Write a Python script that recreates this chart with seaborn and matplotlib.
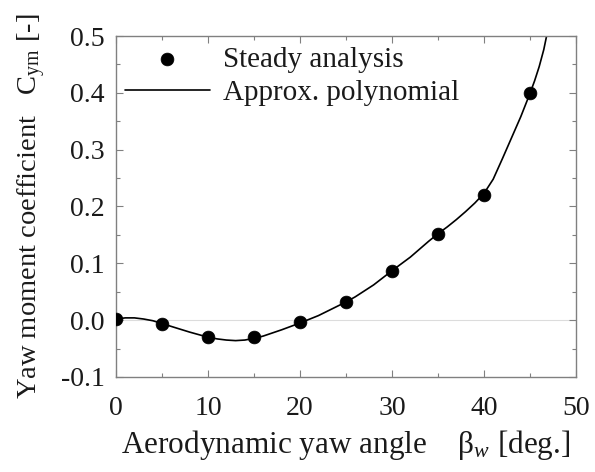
import matplotlib
matplotlib.use("Agg")
import matplotlib.pyplot as plt
import seaborn as sns
import numpy as np
import pandas as pd
from matplotlib.ticker import MultipleLocator

# Steady analysis points
beta_pts = [0, 5, 10, 15, 20, 25, 30, 35, 40, 45]
cym_pts = [0.002, -0.006, -0.030, -0.030, -0.004, 0.032, 0.087, 0.152, 0.221, 0.399]

# Approx. polynomial curve
beta_curve = [0, 1, 2, 3, 4, 5, 6, 8, 10, 11, 12, 13, 14, 15, 16, 18, 20, 22, 24, 25,
              26, 28, 30, 32, 34, 35, 36, 37, 38, 39, 40, 41, 42, 43, 44, 45, 45.5, 46, 46.5, 47]
cym_curve = [0.002, 0.004, 0.004, 0.002, -0.001, -0.006, -0.011, -0.021, -0.030, -0.033,
             -0.035, -0.036, -0.035, -0.032, -0.028, -0.017, -0.005, 0.008, 0.024, 0.032,
             0.041, 0.062, 0.087, 0.111, 0.139, 0.152, 0.164, 0.177, 0.191, 0.206, 0.223,
             0.248, 0.284, 0.321, 0.358, 0.399, 0.421, 0.446, 0.476, 0.515]

x_ticks = [0, 10, 20, 30, 40, 50]
y_ticks = [-0.1, 0.0, 0.1, 0.2, 0.3, 0.4, 0.5]
y_ticklabels = ["-0.1", "0.0", "0.1", "0.2", "0.3", "0.4", "0.5"]

sns.set_theme(style="ticks")
plt.rcParams["font.family"] = ["Liberation Serif", "DejaVu Serif"]
plt.rcParams["mathtext.fontset"] = "custom"
plt.rcParams["mathtext.rm"] = "Liberation Serif"
plt.rcParams["mathtext.it"] = "Liberation Serif:italic"

fig = plt.figure(figsize=(5.95, 4.72), dpi=100)
ax = fig.add_axes([0.195, 0.2013, 0.773, 0.7224])

ax.axhline(0, color="#dcdcdc", lw=0.8, zorder=0)

df_pts = pd.DataFrame({"beta": beta_pts, "cym": cym_pts})
df_curve = pd.DataFrame({"beta": beta_curve, "cym": cym_curve})

sns.scatterplot(data=df_pts, x="beta", y="cym", ax=ax, color="black", s=85,
                edgecolor="black", linewidth=0.5, label="Steady analysis", zorder=3)
sns.lineplot(data=df_curve, x="beta", y="cym", ax=ax, color="black", lw=1.2,
             label="Approx. polynomial", zorder=2)

ax.set_xlim(0, 50)
ax.set_ylim(-0.1, 0.5)
ax.set_xticks(x_ticks)
ax.set_yticks(y_ticks)
ax.set_yticklabels(y_ticklabels)
ax.xaxis.set_minor_locator(MultipleLocator(5))
ax.yaxis.set_minor_locator(MultipleLocator(0.05))
ax.tick_params(which="both", direction="in", top=True, right=True, color="#808080",
               labelsize=20, labelcolor="#1a1a1a", width=0.8)
ax.tick_params(which="major", length=5)
ax.tick_params(axis="x", which="major", pad=14)
ax.tick_params(axis="y", which="major", pad=8)
ax.tick_params(which="minor", length=3)
for s in ax.spines.values():
    s.set_color("#808080")
    s.set_linewidth(1.0)

ax.set_xlabel("Aerodynamic yaw angle    β$_{w}$ [deg.]", fontsize=22.5, color="#1a1a1a", labelpad=5)
ax.set_ylabel("Yaw moment coefficient   C$_{\\mathrm{ym}}$ [-]", fontsize=20.5, color="#1a1a1a", labelpad=3)
ax.yaxis.set_label_coords(-0.148, 0.5)

leg = ax.legend(loc="upper left", bbox_to_anchor=(-0.025, 1.03), frameon=False, fontsize=21,
                handlelength=2.9, handletextpad=0.45, labelspacing=0.25, borderaxespad=0.3)
for t in leg.get_texts():
    t.set_color("#1a1a1a")

fig.savefig("out.png", dpi=100)
